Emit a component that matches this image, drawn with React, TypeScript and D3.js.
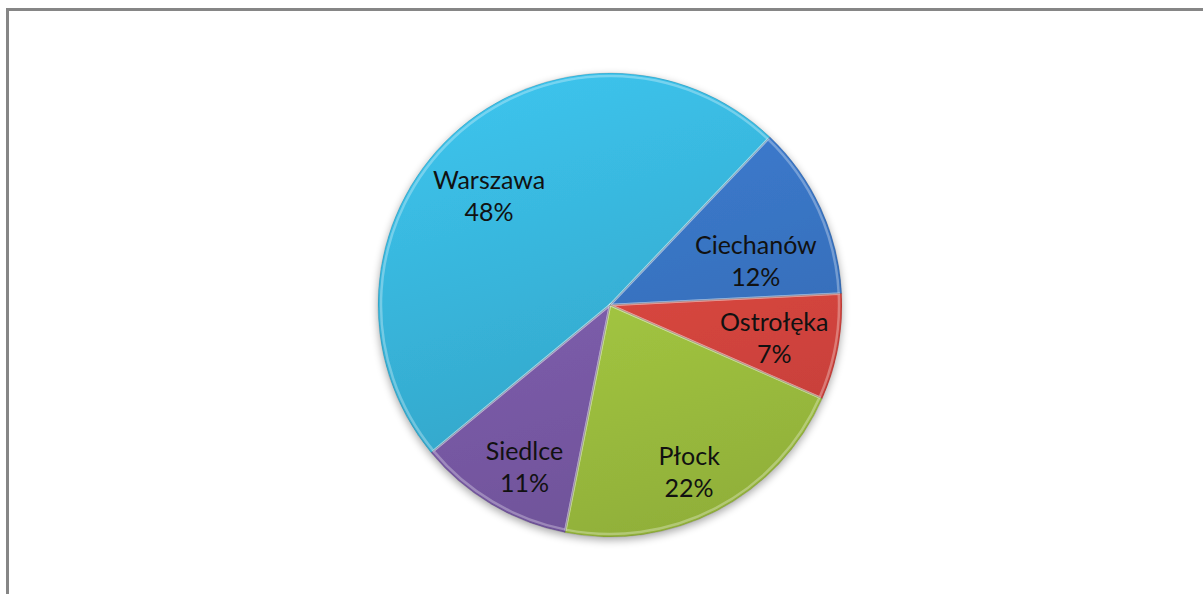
import { useEffect, useRef } from 'react';
import * as d3 from 'd3';

// Pie slices, clockwise from the Ciechanów/Warszawa boundary
const regions = ['Ciechanów', 'Ostrołęka', 'Płock', 'Siedlce', 'Warszawa'];
const shares = [12.1, 7.4, 21.5, 10.9, 48.1];
const colors = ['#3a76c6', '#de4841', '#a6ca42', '#7f5eae', '#38b6dc'];

// small hand nudges so labels sit where Excel's best-fit put them
const nudge: Record<string, [number, number]> = {
  'Warszawa': [-7, 10], 'Ciechanów': [-6, 23], 'Ostrołęka': [0, 0], 'Płock': [2, 16], 'Siedlce': [0, 16],
};

export default function App() {
  const svgRef = useRef<SVGSVGElement>(null);

  useEffect(() => {
    if (!svgRef.current) return;
    const svg = d3.select(svgRef.current);
    svg.selectAll('*').remove();

    const w = 1203, h = 594;
    const cx = 610, cy = 305, r = 232;

    // frame of the chart area (runs off the page right and bottom)
    svg.append('rect').attr('x', 7.5).attr('y', 9.5).attr('width', w + 20).attr('height', h + 20)
      .attr('fill', '#fff').attr('stroke', '#868686').attr('stroke-width', 3);

    const defs = svg.append('defs');
    const shadow = defs.append('filter').attr('id', 'pieShadow').attr('x', '-10%').attr('y', '-10%').attr('width', '120%').attr('height', '125%');
    shadow.append('feGaussianBlur').attr('in', 'SourceAlpha').attr('stdDeviation', 4).attr('result', 'b');
    shadow.append('feOffset').attr('in', 'b').attr('dy', 3).attr('result', 'o');
    shadow.append('feComponentTransfer').attr('in', 'o').attr('result', 's')
      .append('feFuncA').attr('type', 'linear').attr('slope', 0.35);
    const mg = shadow.append('feMerge');
    mg.append('feMergeNode').attr('in', 's');
    mg.append('feMergeNode').attr('in', 'SourceGraphic');

    colors.forEach((c, i) => {
      const gr = defs.append('linearGradient').attr('id', `sl${i}`)
        .attr('gradientUnits', 'userSpaceOnUse')
        .attr('x1', -r * 0.3).attr('y1', -r).attr('x2', r * 0.3).attr('y2', r);
      gr.append('stop').attr('offset', '0%').attr('stop-color', d3.color(c)!.brighter(0.2).formatHex());
      gr.append('stop').attr('offset', '100%').attr('stop-color', d3.color(c)!.darker(0.4).formatHex());
    });

    const data = regions.map((name, i) => ({ name, value: shares[i], i }));
    const start = 43.6 * Math.PI / 180;
    const pie = d3.pie<typeof data[0]>().sort(null).value(d => d.value)
      .startAngle(start).endAngle(start + 2 * Math.PI);
    const arcs = pie(data);

    const g = svg.append('g').attr('transform', `translate(${cx},${cy})`);
    const arc = d3.arc<d3.PieArcDatum<typeof data[0]>>().innerRadius(0).outerRadius(r);
    const inner = d3.arc<d3.PieArcDatum<typeof data[0]>>().innerRadius(0).outerRadius(r - 3);

    const slices = g.append('g').attr('filter', 'url(#pieShadow)');
    slices.selectAll('path.s').data(arcs).enter().append('path').attr('class', 's')
      .attr('d', arc).attr('fill', d => `url(#sl${d.data.i})`);
    // bevel highlight
    slices.selectAll('path.b').data(arcs).enter().append('path').attr('class', 'b')
      .attr('d', inner).attr('fill', 'none')
      .attr('stroke', 'rgba(255,255,255,0.3)').attr('stroke-width', 2.5);
    slices.selectAll('path.e').data(arcs).enter().append('path').attr('class', 'e')
      .attr('d', arc).attr('fill', 'none')
      .attr('stroke', 'rgba(0,0,0,0.12)').attr('stroke-width', 1);

    const lab = d3.arc<d3.PieArcDatum<typeof data[0]>>().innerRadius(r * 0.72).outerRadius(r * 0.72);
    const labels = g.selectAll('text.l').data(arcs).enter().append('text').attr('class', 'l')
      .attr('transform', d => {
        const [x, y] = lab.centroid(d);
        const [nx, ny] = nudge[d.data.name] || [0, 0];
        return `translate(${x + nx},${y + ny})`;
      })
      .attr('text-anchor', 'middle')
      .attr('font-family', 'Lato, "Open Sans", sans-serif').attr('font-size', 25).attr('fill', '#111');
    labels.append('tspan').attr('x', 0).attr('dy', -4).text(d => d.data.name);
    labels.append('tspan').attr('x', 0).attr('dy', 32).text(d => `${Math.round(d.data.value)}%`);
  }, []);

  return (
    <svg ref={svgRef} width={1203} height={594}
      style={{ position: 'absolute', left: 0, top: 0, display: 'block' }} />
  );
}
